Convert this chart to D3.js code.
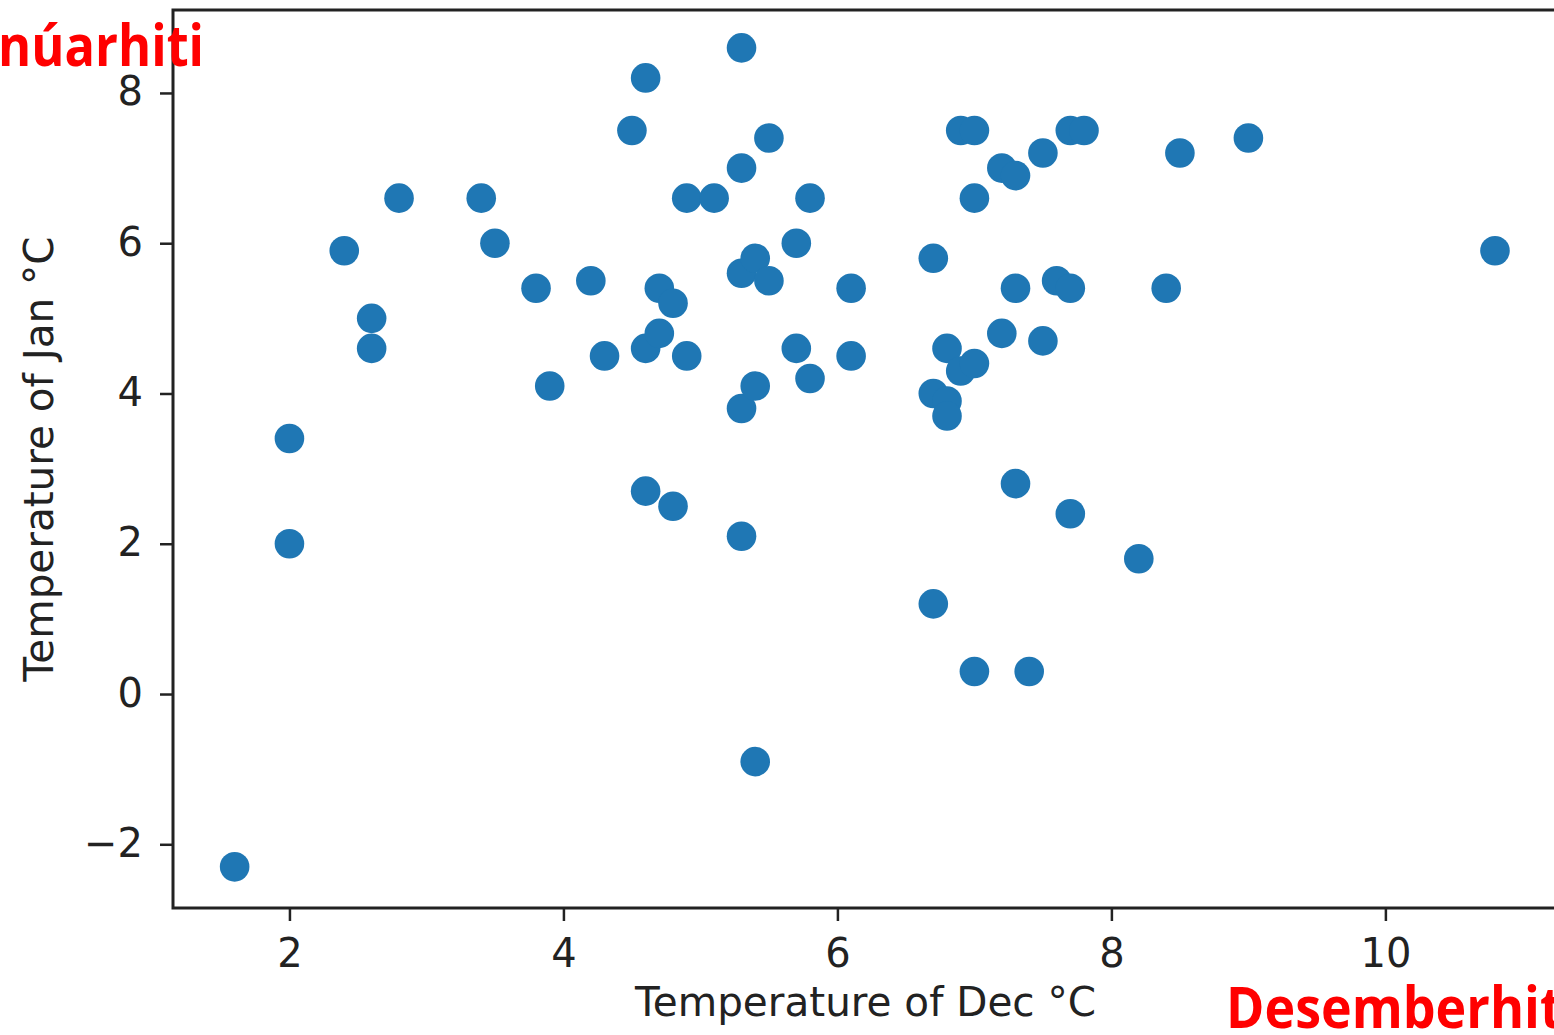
<!DOCTYPE html>
<html>
<head>
<meta charset="utf-8">
<script src="https://cdn.jsdelivr.net/npm/d3@7"></script>
<style>
  html, body { margin: 0; padding: 0; background: #fff; overflow: hidden; }
  svg { display: block; }
</style>
</head>
<body>
<svg id="chart" width="1554" height="1035"></svg>
<script>
// December vs January mean temperatures (°C), one entry per station
const decTemps = [
  1.6, 2.0, 2.0, 2.4, 2.6, 2.6, 2.8, 3.4, 3.5, 3.8,
  3.9, 4.2, 4.3, 4.5, 4.6, 4.6, 4.6, 4.7, 4.7, 4.8,
  4.8, 4.9, 4.9, 5.1, 5.3, 5.3, 5.3, 5.3, 5.3, 5.4,
  5.4, 5.4, 5.5, 5.5, 5.7, 5.7, 5.8, 5.8, 6.1, 6.1,
  6.7, 6.7, 6.8, 6.9, 7.0, 6.7, 6.8, 6.8, 6.9, 7.0,
  7.0, 7.2, 7.3, 7.5, 7.7, 7.8, 7.2, 7.3, 7.5, 7.6,
  7.7, 7.3, 7.7, 8.2, 7.0, 7.4, 8.4, 8.5, 9.0, 10.8
];
const janTemps = [
  -2.3, 3.4, 2.0, 5.9, 5.0, 4.6, 6.6, 6.6, 6.0, 5.4,
  4.1, 5.5, 4.5, 7.5, 8.2, 4.6, 2.7, 5.4, 4.8, 5.2,
  2.5, 6.6, 4.5, 6.6, 8.6, 7.0, 5.6, 3.8, 2.1, 5.8,
  4.1, -0.9, 7.4, 5.5, 6.0, 4.6, 4.2, 6.6, 5.4, 4.5,
  5.8, 1.2, 4.6, 4.3, 4.4, 4.0, 3.9, 3.7, 7.5, 7.5,
  6.6, 7.0, 6.9, 7.2, 7.5, 7.5, 4.8, 5.4, 4.7, 5.5,
  5.4, 2.8, 2.4, 1.8, 0.3, 0.3, 5.4, 7.2, 7.4, 5.9
];

const xTicks = [2, 4, 6, 8, 10];
const yTicks = [-2, 0, 2, 4, 6, 8];
const xLabel = "Temperature of Dec °C";
const yLabel = "Temperature of Jan °C";
const janTitle = "Janúarhiti";
const decTitle = "Desemberhiti";

const svg = d3.select("#chart");
const frame = { left: 173, right: 1558, top: 10, bottom: 908 };
const ink = "#222";
const dotColor = "#1f77b4";
const axisFont = "'DejaVu Sans', Verdana, sans-serif";

const x = d3.scaleLinear().domain([1.15, 11.26]).range([frame.left, frame.right]);
const y = d3.scaleLinear().domain([-2.848, 9.104]).range([frame.bottom, frame.top]);

// points
const pts = decTemps.map((d, i) => ({ dec: d, jan: janTemps[i] }));
svg.append("g")
  .selectAll("circle")
  .data(pts)
  .join("circle")
  .attr("cx", d => x(d.dec))
  .attr("cy", d => y(d.jan))
  .attr("r", 14.8)
  .attr("fill", dotColor);

// axes box
svg.append("rect")
  .attr("x", frame.left).attr("y", frame.top)
  .attr("width", frame.right - frame.left)
  .attr("height", frame.bottom - frame.top)
  .attr("fill", "none")
  .attr("stroke", ink)
  .attr("stroke-width", 3);

const fmt = d => (d < 0 ? "\u2212" + Math.abs(d) : String(d));

const xAxis = svg.append("g")
  .attr("transform", `translate(0,${frame.bottom})`)
  .call(d3.axisBottom(x).tickValues(xTicks).tickSize(13).tickPadding(18).tickFormat(fmt));
const yAxis = svg.append("g")
  .attr("transform", `translate(${frame.left},0)`)
  .call(d3.axisLeft(y).tickValues(yTicks).tickSize(13).tickPadding(17).tickFormat(fmt));

[xAxis, yAxis].forEach(g => {
  g.select(".domain").remove();
  g.selectAll(".tick line").attr("stroke", ink).attr("stroke-width", 2.5);
  g.selectAll(".tick text")
    .attr("fill", ink)
    .attr("font-family", axisFont)
    .attr("font-size", 40);
});
yAxis.selectAll(".tick text").attr("dy", "0.3em");

// axis titles
svg.append("text")
  .attr("x", (frame.left + frame.right) / 2)
  .attr("y", 1016)
  .attr("text-anchor", "middle")
  .attr("font-family", axisFont)
  .attr("font-size", 40.5)
  .attr("fill", ink)
  .text(xLabel);

svg.append("text")
  .attr("transform", `translate(53,${(frame.top + frame.bottom) / 2}) rotate(-90)`)
  .attr("text-anchor", "middle")
  .attr("font-family", axisFont)
  .attr("font-size", 40.5)
  .attr("fill", ink)
  .text(yLabel);

// red bold captions, condensed horizontally so a chosen run of letters spans a set width
function caption(str, start, count, width, ax, by, anchor) {
  const t = svg.append("text")
    .attr("font-family", "'Open Sans', 'Liberation Sans', sans-serif")
    .attr("font-weight", 700)
    .attr("font-size", 57)
    .attr("fill", "#ff0000")
    .attr("text-anchor", anchor)
    .text(str);
  const run = t.node().getSubStringLength(start, count);
  const sx = width / run;
  t.attr("transform", `translate(${ax},${by}) scale(${sx},1)`);
}
caption(janTitle, 2, 8, 206, 204, 66, "end");
caption(decTitle, 0, 10, 314, 1226, 1028, "start");
</script>
</body>
</html>
